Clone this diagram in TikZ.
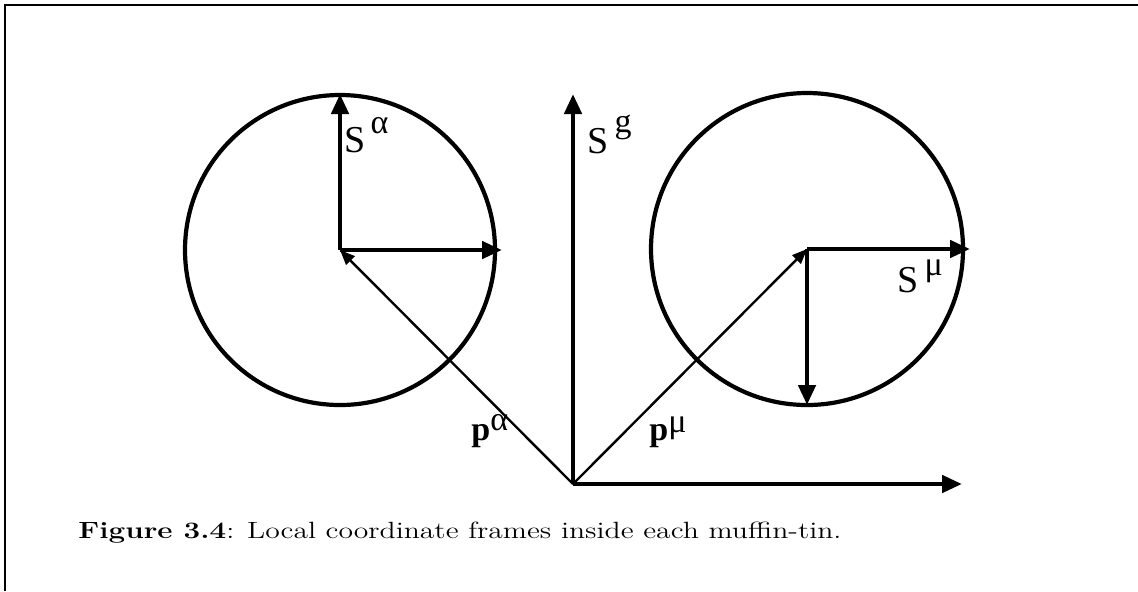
\documentclass[tikz,border=0pt]{standalone}
\usepackage{fontspec}
\usetikzlibrary{arrows.meta}
\newfontfamily\tms{Liberation Serif}
\newcommand\supfig[2]{\raisebox{#1}{\fontsize{17}{17}\selectfont #2}}
\begin{document}
\begin{tikzpicture}[x=0.5pt,y=-0.5pt,
  frame/.style={line width=1.4pt},
  ring/.style={line width=2.1pt},
  axis/.style={line width=2.3pt,-{Triangle[length=10pt,width=8.5pt]}},
  pvec/.style={line width=1.2pt,-{Triangle[length=7.5pt,width=6pt]}},
  lab/.style={inner sep=0pt,font=\tms\fontsize{19}{19}\selectfont},
  plab/.style={inner sep=0pt,font=\tms\bfseries\fontsize{17}{17}\selectfont},
  captext/.style={inner sep=0pt,font=\fontsize{11.75}{13}\selectfont}]
\useasboundingbox (0,0) rectangle (1138,591);
% frame
\coordinate (TL) at (5,5);
\coordinate (TR) at (1138,5);
\coordinate (BL) at (5,591);
\draw[frame] (TR) -- (TL) -- (BL);
% key points
\coordinate (O) at (573,484);
\coordinate (A) at (340,250);
\coordinate (M) at (807,249);
\coordinate (Gy) at (573,94);
\coordinate (Gx) at (962,484);
\coordinate (Ay) at (340,94);
\coordinate (Ax) at (502,250);
\coordinate (Mx) at (970,249);
\coordinate (My) at (807,405);
% circles
\draw[ring] (A) circle[radius=77.5pt];
\draw[ring] (M) circle[radius=78pt];
% global frame
\draw[axis] (O) -- (Gy);
\draw[axis] (O) -- (Gx);
% local frames
\draw[axis] (A) -- (Ay);
\draw[axis] (A) -- (Ax);
\draw[axis] (M) -- (Mx);
\draw[axis] (M) -- (My);
% position vectors
\draw[pvec] (O) -- (A);
\draw[pvec] (O) -- (M);
% labels
\node[lab,anchor=base west] (SA) at (344,152) {S\hspace{2.5pt}\supfig{9.5pt}{α}};
\node[lab,anchor=base west] (SG) at (587,153) {S\hspace{3pt}\supfig{10.5pt}{g}};
\node[lab,anchor=base west] (SM) at (897,292) {S\hspace{3pt}\supfig{8.5pt}{μ}};
\node[plab,anchor=base west] (PA) at (471,440) {p\supfig{5pt}{\mdseries α}};
\node[plab,anchor=base west] (PM) at (649,440) {p\supfig{4pt}{\mdseries μ}};
\node[captext,anchor=base west] (CAP) at (78,538) {\scalebox{1.26}[1]{\textbf{Figure 3.4}: Local coordinate frames inside each muffin-tin.}};
\end{tikzpicture}
\end{document}
